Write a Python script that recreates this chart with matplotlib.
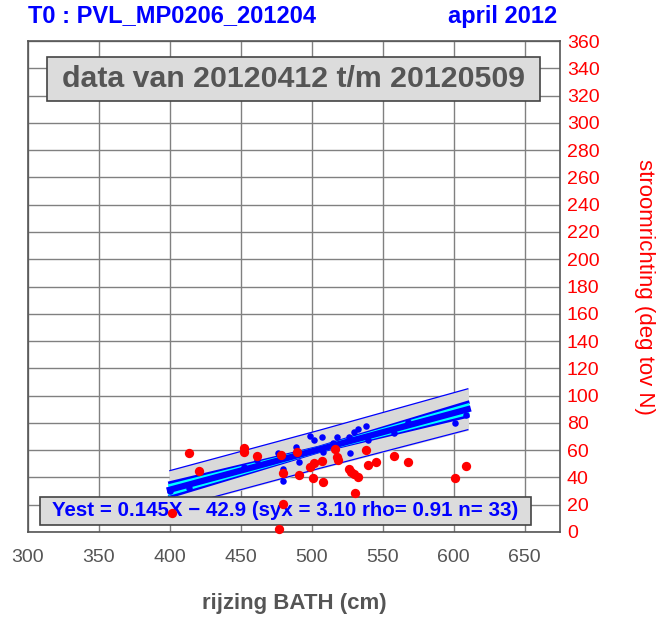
import matplotlib
matplotlib.use("Agg")
import matplotlib.pyplot as plt
from matplotlib.patches import Rectangle
import numpy as np

plt.rcParams['font.family'] = ['Liberation Sans', 'DejaVu Sans']

# ---- data ----
red_x = [401.6, 413.4, 420.4, 452.3, 452.3, 461.3, 476.6, 478.2, 479.4, 479.4,
         489.3, 491.2, 499.0, 500.6, 501.3, 507.2, 508.1, 516.2, 517.6, 518.8,
         526.6, 527.7, 530.1, 530.5, 532.4, 538.3, 539.5, 545.4, 557.9, 568.2,
         600.8, 609.0]
red_y = [14.2, 57.7, 44.7, 61.8, 58.9, 55.7, 2.4, 56.5, 43.5, 20.5,
         58.7, 41.6, 47.4, 39.8, 50.4, 52.3, 36.4, 60.6, 54.8, 52.8,
         46.4, 44.2, 42.3, 28.4, 40.5, 60.1, 49.1, 51.5, 55.7, 51.5,
         39.8, 48.6]

blue_x = [400.4, 413.4, 452.3, 461.3, 476.0, 479.4, 479.4, 488.8, 491.2, 499.0,
          501.3, 507.2, 507.7, 514.8, 517.6, 526.5, 527.2, 530.1, 532.4, 538.3,
          539.5, 557.9, 567.8, 600.8, 609.0]
blue_y = [30.3, 32.0, 47.9, 52.8, 57.7, 46.0, 37.4, 62.5, 51.5, 70.4,
          67.4, 69.9, 58.9, 65.0, 69.9, 69.9, 57.7, 73.5, 75.3, 77.7,
          67.4, 72.4, 80.9, 79.7, 86.0]

fit_x = [400, 505, 610]
fit_y = [31.0, 60.5, 90.0]
conf_inner = [3.0, 1.0, 3.0]    # cyan lines half width
conf_outer = [5.0, 1.5, 5.0]    # blue lines half width
pred_band = [14.0, 14.0, 15.0]  # grey band half width

x_ticks = [300, 350, 400, 450, 500, 550, 600, 650]
y_ticks = list(range(0, 361, 20))

title_left = "T0 : PVL_MP0206_201204"
title_right = "april 2012"
box_text = "data van 20120412 t/m 20120509"
eq_text = "Yest = 0.145X \u2212 42.9 (syx = 3.10 rho= 0.91 n= 33)"

# ---- figure ----
W, H = 671, 618
fig = plt.figure(figsize=(W / 100, H / 100), dpi=100)
L, R, T, B = 28, 560, 41, 532
ax = fig.add_axes([L / W, 1 - B / H, (R - L) / W, (B - T) / H])
ax.set_xlim(300, 675)
ax.set_ylim(0, 360)

ax.set_xticks(x_ticks)
ax.set_yticks(y_ticks)
ax.grid(True, color='#808080', lw=1.0, zorder=0)
ax.set_axisbelow(True)
for s in ax.spines.values():
    s.set_color('#555555')
    s.set_linewidth(1.2)

ax.yaxis.tick_right()
ax.yaxis.set_label_position('right')
ax.tick_params(axis='y', colors='red', labelcolor='red', length=0, labelsize=14, pad=5)
ax.tick_params(axis='x', labelcolor='#555555', length=0, labelsize=14, pad=12)

fx = np.array(fit_x, dtype=float)
fy = np.array(fit_y)
pb = np.array(pred_band)
ci = np.array(conf_inner)
co = np.array(conf_outer)

ax.fill_between(fx, fy - pb, fy + pb, color='#d9d9d9', zorder=2)
ax.plot(fx, fy + pb, color='blue', lw=0.9, zorder=3)
ax.plot(fx, fy - pb, color='blue', lw=0.9, zorder=3)
ax.plot(fx, fy + co, color='blue', lw=2.5, zorder=3)
ax.plot(fx, fy - co, color='blue', lw=2.5, zorder=3)
ax.plot(fx, fy + ci, color='cyan', lw=2.5, zorder=4)
ax.plot(fx, fy - ci, color='cyan', lw=2.5, zorder=4)
ax.plot(fx, fy, color='blue', lw=4.5, zorder=5)

ax.scatter(blue_x, blue_y, s=22, color='blue', zorder=6, linewidths=0)

# boxes
def px_rect(x0, y0, x1, y1, **kw):
    ax.add_patch(Rectangle(((x0 - L) / (R - L), (B - y1) / (B - T)),
                           (x1 - x0) / (R - L), (y1 - y0) / (B - T),
                           transform=ax.transAxes, clip_on=False, **kw))

px_rect(47, 57, 540, 101, facecolor='#dcdcdc', edgecolor='#444444', lw=1.2, zorder=7)
ax.text(((47 + 540) / 2 - L) / (R - L), (B - 79) / (B - T), box_text,
        transform=ax.transAxes, ha='center', va='center', fontsize=21.8,
        fontweight='bold', color='#555555', zorder=8)

px_rect(40, 497, 531, 525, facecolor='#dcdcdc', edgecolor='#444444', lw=1.2, zorder=7)
ax.text(((40 + 531) / 2 - L) / (R - L), (B - 511) / (B - T), eq_text,
        transform=ax.transAxes, ha='center', va='center', fontsize=14.8,
        fontweight='bold', color='blue', zorder=8)

ax.scatter(red_x, red_y, s=45, color='red', zorder=9, linewidths=0, clip_on=False)

ax.set_xlabel("rijzing BATH (cm)", fontsize=16, fontweight='bold', color='#555555', labelpad=20)
ax.set_ylabel("stroomrichting (deg tov N)", fontsize=16, color='red', rotation=-90, labelpad=40)

fig.text(28 / W, 1 - 16 / H, title_left, ha='left', va='center', fontsize=17,
         fontweight='bold', color='blue')
fig.text(557 / W, 1 - 16 / H, title_right, ha='right', va='center', fontsize=17,
         fontweight='bold', color='blue')

fig.savefig('out.png', dpi=100)
